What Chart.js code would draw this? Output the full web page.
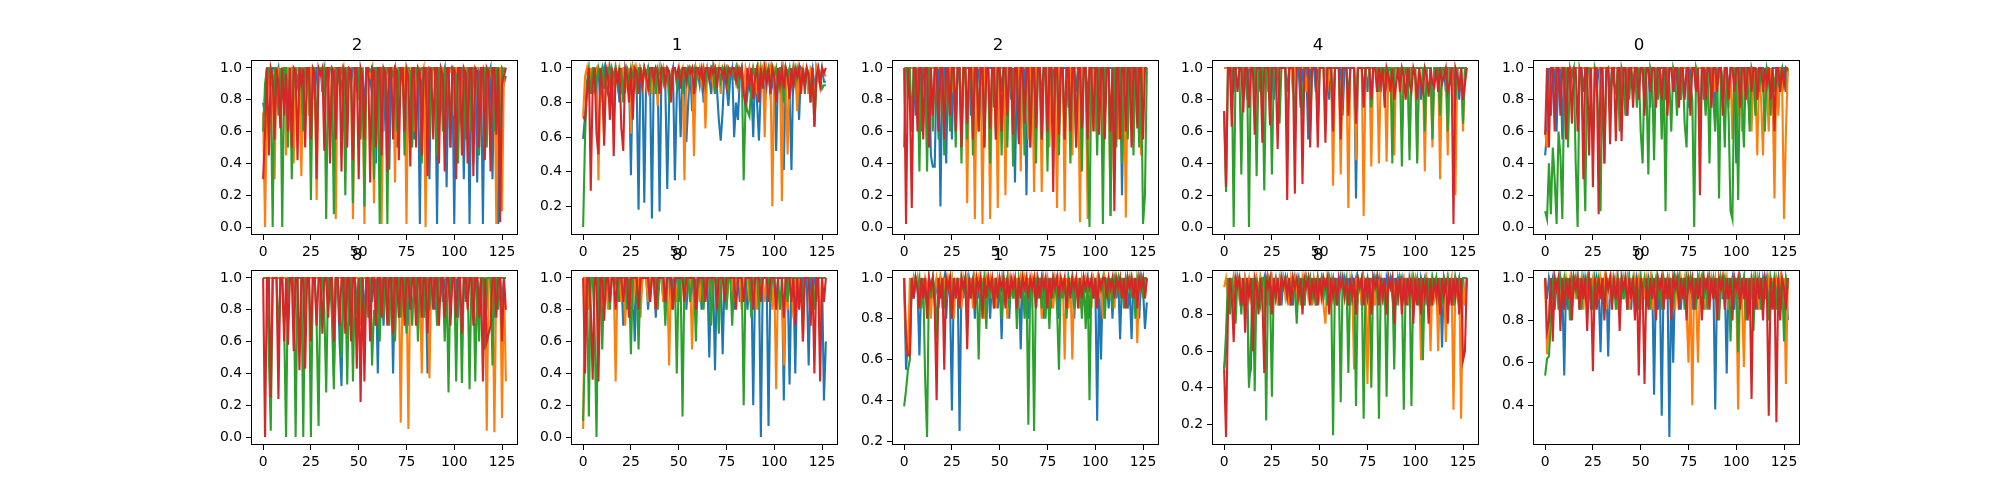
<!DOCTYPE html>
<html>
<head>
<meta charset="utf-8">
<script src="https://cdn.jsdelivr.net/npm/chart.js@4.4.1/dist/chart.umd.min.js"></script>
<style>
  html, body { margin: 0; padding: 0; background: #fff; }
  #fig { position: relative; width: 2000px; height: 500px; overflow: hidden; background: #fff; }
  #fig canvas { position: absolute; }
</style>
</head>
<body>
<div id="fig"></div>
<script>
// panel titles, row by row
const titles = ['2', '1', '2', '4', '0', '8', '8', '1', '8', '0'];
const xTicks = [0, 25, 50, 75, 100, 125];
const yTicks = [
  [0, .2, .4, .6, .8, 1], [.2, .4, .6, .8, 1], [0, .2, .4, .6, .8, 1], [0, .2, .4, .6, .8, 1], [0, .2, .4, .6, .8, 1],
  [0, .2, .4, .6, .8, 1], [0, .2, .4, .6, .8, 1], [.2, .4, .6, .8, 1], [.2, .4, .6, .8, 1], [.4, .6, .8, 1]
];
const steps = Array.from({ length: 128 }, (_, i) => i);

// ---- panel 0 ----
const p0Blue = [.78,.7,1,1,.9,1,1,.95,1,.85,1,1,1,.6,1,1,
  .9,1,1,1,.7,1,1,1,.95,1,1,.8,1,1,1,.85,
  1,1,.9,1,1,1,.75,1,1,1,.6,1,1,1,.9,1,
  1,.85,1,1,1,.7,1,1,.9,1,1,.4,1,1,1,.6,
  1,1,.36,1,1,1,.5,1,1,.9,1,.3,1,1,1,.55,
  1,1,.02,1,1,.9,1,.3,1,1,1,.02,1,1,.95,1,
  .25,1,1,1,.02,1,1,.9,1,.3,1,1,.02,1,1,1,
  .28,1,1,.02,1,1,.95,1,.3,1,1,.02,1,1,.9,.95];
const p0Orange = [.72,0,.8,1,1,.9,.3,1,1,.85,1,1,.45,1,1,1,
  .4,1,1,.95,.32,1,1,1,.7,1,1,1,.17,1,1,.9,
  1,1,.98,.5,1,1,.05,1,1,.95,1,.35,1,1,1,.05,
  1,1,.8,1,1,.02,1,1,.95,1,.15,1,1,1,.02,1,
  1,.9,1,1,1,.28,1,1,.98,1,1,.02,1,1,1,.6,
  1,1,1,.95,1,0,1,1,.9,1,1,.5,1,1,1,.8,
  1,1,.98,1,.7,1,1,1,.6,1,1,.95,1,1,.4,1,
  1,1,.98,1,.5,1,1,1,.9,1,.02,1,1,.1,1,1];
const p0Green = [.6,.9,1,1,.85,0,1,1,.7,1,0,1,1,.5,1,.3,
  1,1,.9,1,1,.6,1,1,1,.17,1,1,.5,1,1,.95,
  1,.05,1,1,1,.08,1,1,.9,1,1,.2,1,1,.95,.15,
  1,1,1,.55,1,.13,1,1,.98,1,.3,1,1,.02,1,1,
  1,.02,1,1,.95,1,.6,1,1,1,.45,1,1,.98,.5,1,
  1,.9,1,.4,1,1,1,.55,1,1,.98,.45,1,1,.6,1,
  1,1,.5,1,1,.95,.4,1,1,1,.55,1,1,.6,1,1,
  .98,.45,1,1,1,.5,1,1,.95,.6,1,1,.4,1,.98,1];
const p0Red = [.3,.6,1,.45,1,.95,.55,1,.9,.62,1,.7,.96,.6,1,.5,
  1,.98,.42,1,.9,1,.5,1,1,.55,1,.97,.3,1,.96,1,
  .48,1,1,.4,1,.98,.55,1,1,.35,1,.97,.5,1,.99,.42,
  1,1,.3,1,.95,.55,1,1,.28,1,.98,.5,1,1,.45,1,
  .97,.35,1,1,.55,1,.98,.42,1,1,.6,1,.95,.38,1,1,
  .5,1,.97,.45,1,1,.32,1,.99,.55,1,1,.4,1,.96,.35,
  1,1,.5,1,.98,.3,1,1,.45,1,.97,.4,1,1,.32,1,
  .98,.5,1,1,.42,1,.97,.35,1,1,.58,1,.03,.9,.95,1];

// ---- panel 1 ----
const p1Blue = [.59,.72,.9,.95,.85,1,.88,.92,1,.8,.95,1,.9,.85,1,.93,
  .9,1,.95,.8,1,.92,.88,1,.97,.38,1,.95,.9,.18,1,.97,
  .22,.98,1,.95,.13,1,.9,.97,.17,1,.96,.9,.3,.8,.95,1,
  .35,.85,1,.6,.95,.98,.57,.8,1,.75,.85,1,.97,.9,1,.8,
  .9,1,.95,.85,1,.92,.88,.7,.58,.75,1,.9,.78,.95,1,.6,
  .8,.7,.95,1,.9,.75,.85,.98,.9,.6,1,.8,.58,.9,1,.8,
  .95,1,.85,.9,.98,.52,1,.9,.95,.41,1,.98,.85,.41,1,.9,
  .95,.7,1,.98,.9,1,.85,.95,1,.85,1,.95,.9,1,.92,.92];
const p1Orange = [.72,.95,1,.9,1,.85,.98,1,.35,.9,1,.6,.95,1,.88,1,
  .7,1,.95,1,.85,1,1,.9,1,.62,1,.95,1,.88,1,.97,
  1,.9,1,.98,.85,1,1,.78,1,.95,1,.9,1,.98,.85,1,
  1,.92,1,.97,1,.35,1,.9,1,.98,.49,1,.95,1,.9,1,
  .65,1,.98,1,.9,1,.95,1,.85,1,.97,1,.92,1,1,.95,
  1,.9,1,.98,.85,1,.95,1,.9,1,.97,.85,1,.95,1,.6,
  1,.95,1,.2,1,.98,.9,1,.23,1,.95,.5,1,.9,1,.98,
  .75,1,.95,1,.9,1,.85,1,.98,.75,1,.95,.9,1,.97,.95];
const p1Green = [.08,.6,.92,1,.85,1,1,.9,1,.95,1,.88,1,1,.92,1,
  .95,1,.9,1,.98,.8,1,1,.92,1,.95,1,.85,1,1,.9,
  1,.95,1,.9,1,1,.85,1,.97,1,.92,1,1,.8,.95,1,
  1,.9,1,.98,.85,1,1,.92,1,.97,1,.9,1,1,.95,1,
  .9,1,1,.95,1,.85,1,1,.92,1,.97,1,.9,1,1,.95,
  1,.88,1,1,.35,.8,.75,.72,.9,1,.95,1,.88,1,.92,1,
  .97,1,.85,1,.95,1,.9,1,1,.8,1,.95,1,.88,1,.92,
  1,.95,.9,1,.85,1,.97,.8,1,.66,.9,1,.95,.88,.9,.9];
const p1Red = [.72,.7,.85,1,.29,.9,1,.62,.5,1,.9,.55,1,.95,.7,1,
  .49,1,.92,1,.65,.52,1,.95,.8,1,.7,1,.98,.85,1,.9,
  1,.95,.88,1,1,.92,1,.97,.85,1,1,.9,1,.98,.8,1,
  1,.95,1,.88,1,1,.92,1,.97,1,.85,1,1,.95,1,.9,
  1,1,.93,1,.97,1,.88,1,1,.95,1,.9,1,.97,1,1,
  .92,1,.95,1,.85,.8,1,.9,1,.82,.95,1,.8,1,.88,1,
  .9,1,.85,1,.95,.8,1,.9,1,.88,1,.95,.82,1,.9,1,
  .95,1,.85,1,.9,1,.95,.8,1,.66,.95,1,.9,1,.97,1];

// ---- panel 2 ----
const p2Blue = [1,1,1,1,1,1,.7,1,1,.6,1,1,.55,1,.45,.38,
  .38,1,1,.13,1,1,.4,1,1,.55,1,.7,1,1,.6,1,
  1,1,1,.7,1,1,.85,1,1,1,.8,1,1,1,1,.75,
  1,1,1,.85,1,1,1,1,.8,1,.28,1,1,1,1,1,
  .2,1,1,.85,1,1,1,1,.8,1,1,1,1,.65,1,1,
  1,.85,1,1,1,1,.75,1,1,1,.85,1,1,1,1,1,
  .8,1,1,1,1,1,.85,1,1,.7,1,1,1,1,.55,1,
  1,1,.2,1,1,1,.85,1,1,1,.8,1,1,1,1,1];
const p2Orange = [1,1,1,1,1,1,.85,1,1,1,1,1,1,.8,1,1,
  1,1,1,1,1,.6,1,1,1,.85,1,1,1,1,.7,1,
  1,.15,1,1,1,.05,1,1,1,.02,1,1,1,.05,1,1,
  1,.12,1,1,1,.2,1,1,1,.6,1,1,1,.35,1,1,
  1,.55,1,1,.22,1,1,1,.22,1,1,1,.5,1,1,1,
  .12,1,1,1,.1,1,1,1,.45,1,1,1,.03,1,1,1,
  .05,1,1,1,.6,1,1,1,.4,1,1,1,.07,1,1,1,
  .55,1,1,1,.06,1,1,1,.6,1,1,1,.45,1,1,1];
const p2Green = [.5,1,1,1,.6,1,.8,1,.35,1,1,1,.35,1,1,.6,
  1,1,.55,1,1,.45,1,1,.6,1,1,.5,1,1,.4,1,
  1,.55,1,1,.45,1,1,.6,1,1,.5,1,1,.4,1,1,
  .55,1,1,.45,1,1,.5,1,1,.38,1,1,.55,1,1,.45,
  1,1,.5,1,1,.4,1,1,.55,1,1,.35,1,1,.5,1,
  1,.45,1,1,.55,1,1,.4,1,1,.5,1,1,.35,1,1,
  .5,0,1,1,1,.45,1,1,.02,1,1,1,.07,1,1,.5,
  1,1,.4,1,1,.55,1,1,.45,1,1,.5,1,.02,.2,1];
const p2Red = [1,.02,1,.8,.12,1,1,.6,1,1,.55,1,1,.5,1,.7,
  1,1,.6,1,1,.55,1,1,.7,1,1,.6,1,1,.5,1,
  1,.65,1,1,.55,1,1,.6,1,1,.5,1,1,.62,1,1,
  .55,1,1,.6,1,1,.7,1,1,.58,1,1,.52,1,1,.65,
  1,1,.5,1,1,.62,1,1,.55,1,1,.6,1,1,.22,1,
  1,.58,1,1,.55,1,1,.6,1,1,.5,1,1,.62,1,1,
  .55,1,1,.6,1,1,.58,1,1,.55,1,1,.6,1,.1,1,
  1,.55,1,1,.6,1,1,.5,1,1,.62,1,1,.55,1,1];

// ---- panel 3 ----
const p3Blue = [1,1,1,1,1,.85,1,1,1,1,1,1,.8,1,1,1,
  1,1,1,.85,1,1,1,1,1,1,.8,1,1,1,1,1,
  1,.85,1,1,1,1,1,1,.75,1,1,1,.55,1,1,1,
  .85,1,1,1,1,1,1,.8,1,1,1,1,1,1,.7,1,
  1,1,1,1,1,.18,1,1,1,1,1,.85,1,1,1,1,
  1,1,.85,1,1,1,1,1,1,.8,1,1,1,1,1,1,
  .85,1,1,1,1,1,1,.8,1,1,1,1,1,.7,1,1,
  1,1,1,1,.85,1,1,1,1,1,1,.8,1,1,1,1];
const p3Orange = [1,1,1,1,1,1,1,1,1,1,1,1,1,1,1,1,
  1,1,1,1,1,1,1,.85,1,1,1,1,1,1,1,1,
  1,1,1,1,.85,1,1,1,1,1,1,.85,1,1,1,1,
  1,1,1,1,1,1,.85,1,1,.26,1,1,1,.33,1,1,
  1,.12,1,1,1,.42,1,1,1,.07,1,1,1,.38,1,1,
  1,.4,1,1,1,.41,1,1,1,.45,1,1,1,.6,1,1,
  1,.5,1,1,1,.42,1,1,1,.35,1,1,1,.5,1,1,
  1,.3,1,1,1,.45,1,1,1,.2,1,1,1,.6,1,1];
const p3Green = [.72,.22,1,1,1,0,1,1,1,.33,1,1,1,0,1,1,
  1,.32,1,1,1,.23,1,1,1,.33,1,1,1,.65,1,1,
  1,.55,1,1,1,.6,1,1,1,.7,1,1,1,.6,1,1,
  1,.65,1,1,1,.7,1,1,1,.75,1,1,1,.7,1,1,
  1,.8,1,1,1,.7,1,1,1,.85,1,1,1,.75,1,1,
  1,.85,1,1,1,.9,1,1,.4,1,1,1,1,.38,1,1,
  1,.42,1,1,1,.4,1,1,1,.6,1,1,1,.55,1,1,
  1,.7,1,1,1,.6,1,1,1,.8,1,1,1,.65,1,1];
const p3Red = [.73,.25,1,1,.63,1,1,.85,1,1,.72,1,1,.75,1,1,
  .58,1,1,1,.53,1,1,1,.64,1,1,1,.49,1,1,1,
  1,.17,1,1,1,.21,1,1,1,.27,1,1,1,.5,1,1,
  1,.5,1,1,1,.53,1,1,1,.6,1,1,1,.55,1,1,
  1,.7,1,1,1,.65,1,1,1,.75,1,1,1,.8,1,1,
  .85,1,.9,1,.75,1,.95,.85,1,.8,.9,1,.85,1,.95,.8,
  1,.9,.85,1,.95,.8,1,.9,.85,1,.95,.82,1,.9,.88,1,
  .85,1,.9,.95,1,.85,.9,1,.02,1,.95,.85,1,.8,.9,1];

// ---- panel 4 ----
const p4Blue = [.45,.6,1,.7,1,1,.6,1,1,.55,1,1,1,.85,1,1,
  1,1,1,1,.85,1,1,1,1,1,1,.85,1,1,1,1,
  1,1,.8,1,1,1,1,.75,1,1,1,.7,1,1,1,1,
  .85,1,1,1,.8,1,1,.75,1,1,1,.85,1,1,1,.8,
  1,1,1,1,.85,1,1,.8,1,1,1,.75,1,1,1,.85,
  1,1,1,.8,1,1,1,.85,1,.7,1,1,1,.75,1,1,
  .85,1,1,1,.4,1,1,.8,1,1,1,.85,1,1,1,.8,
  1,1,1,.85,1,1,.8,1,1,1,.75,1,1,1,.85,1];
const p4Orange = [.6,.5,.8,1,1,1,1,1,1,1,1,1,1,1,1,1,
  1,1,1,1,1,1,1,1,1,1,1,1,1,1,1,1,
  1,1,1,1,1,1,1,1,1,1,1,1,1,1,1,1,
  1,1,1,1,1,1,1,1,1,1,1,1,1,.9,1,1,
  1,1,1,1,1,1,1,1,1,1,1,1,1,1,1,1,
  1,1,1,1,1,1,1,1,1,.85,1,1,.9,.8,1,1,
  .75,1,.55,1,1,.7,1,.6,1,.85,.8,1,.6,1,.9,.45,
  1,.8,.45,1,.9,.6,1,.85,.18,1,.7,1,.9,.05,.6,1];
const p4Green = [.1,.05,.4,.08,.5,.3,.02,.6,.45,.05,.9,1,.5,1,.95,1,
  .4,0,1,.95,.6,.1,1,1,.8,.5,1,.95,.6,.1,1,.4,
  .98,1,.7,1,.9,.85,1,.6,1,.95,.7,1,.8,1,.9,1,
  .75,1,.6,.4,1,.9,.33,1,.95,.42,1,.8,1,.55,1,.1,
  1,.9,.6,1,.95,.7,1,.8,1,.65,.5,1,.9,.8,0,1,
  .95,.6,1,.9,.7,1,.4,1,.8,.6,1,.18,1,.9,.5,1,
  .7,.1,.05,1,.9,.17,1,.8,.5,1,.9,.6,1,.95,.7,1,
  .85,1,.9,.6,1,.95,.7,1,.85,1,.9,.95,1,.9,1,.98];
const p4Red = [.58,1,.5,1,1,.6,1,1,.7,1,1,.55,1,1,.65,1,
  1,.6,1,1,.3,1,1,.45,1,.25,1,1,.08,1,1,.4,
  1,1,.52,1,1,.54,1,1,.54,1,1,.7,1,1,.75,1,
  1,.8,1,1,.7,1,1,.85,1,1,.75,1,1,.8,1,1,
  .7,1,1,.85,1,1,.75,1,1,.8,1,1,.7,1,1,.85,
  1,.2,1,1,.8,1,1,.75,1,1,.85,1,1,.7,1,1,
  .8,1,1,.85,1,1,.75,1,1,.8,1,1,.85,1,1,.8,
  1,1,.85,1,.9,1,.8,1,.6,1,1,.85,1,.9,1,1];

// ---- panel 5 ----
const p5Blue = [1,1,1,1,1,1,1,1,1,1,1,1,1,1,1,1,
  1,1,1,1,1,1,1,1,1,1,1,1,1,1,1,1,
  1,1,1,1,1,.38,1,1,.6,.32,1,1,1,.7,1,1,
  1,.8,1,1,1,.75,1,1,1,.85,1,1,.4,1,1,.7,
  1,.85,1,1,.4,1,1,1,.8,1,1,1,.7,1,1,1,
  .85,1,1,1,.75,1,.4,1,1,1,.8,1,1,1,.85,1,
  1,1,.8,1,1,1,.75,1,1,1,.85,1,1,1,.8,1,
  1,.85,1,1,1,.8,1,1,1,.75,1,1,1,.85,1,1];
const p5Orange = [1,1,1,1,1,1,1,1,1,1,1,1,1,1,1,1,
  1,1,1,1,1,1,1,1,1,1,1,1,1,1,1,1,
  1,1,1,1,1,.6,1,1,1,1,1,1,1,1,1,1,
  1,1,1,.7,1,1,1,1,1,1,1,1,1,1,1,1,
  1,1,1,1,1,1,1,1,.09,1,1,1,.05,1,1,1,
  1,1,1,.4,1,1,1,.37,1,1,1,1,1,1,1,1,
  1,1,1,1,1,1,1,1,1,1,1,1,1,1,1,1,
  1,1,1,1,1,.04,1,1,1,.03,1,1,1,.12,1,.35];
const p5Green = [1,1,1,.5,.04,1,1,1,.6,1,1,.7,0,1,1,1,
  1,0,1,1,1,0,1,1,1,0,1,1,.7,.07,1,1,
  .8,.28,1,1,.75,.3,1,1,.8,.5,1,1,.33,1,1,.35,
  1,.8,.7,1,1,.6,1,.75,1,.45,.8,.7,1,.6,1,.75,
  1,1,.7,1,1,.6,1,1,.75,1,1,.65,1,1,.7,1,
  1,.6,1,1,.75,1,1,.8,1,1,1,.7,1,1,1,.6,
  1,.28,1,1,1,.35,1,1,.34,1,1,1,.3,1,1,.35,
  1,.6,1,1,.55,1,1,1,.45,1,1,.8,1,1,1,1];
const p5Red = [1,0,1,1,.25,1,1,1,.24,1,1,.6,1,.58,1,1,
  .54,1,1,.42,1,1,.43,1,1,.6,1,1,.7,1,1,.65,
  1,1,.75,1,1,.6,1,1,.7,1,1,.65,1,1,.6,1,
  1,.43,1,.22,1,.35,1,1,.6,1,1,.7,1,1,.75,1,
  1,.7,1,1,.65,1,1,.75,1,1,.7,1,1,.8,1,1,
  .7,1,1,.75,1,1,.65,1,1,.8,1,1,.7,1,1,.75,
  1,1,.7,1,1,.75,1,1,.65,1,1,.8,1,1,.7,1,
  1,.75,1,.35,1,.6,.65,.7,1,1,.75,1,1,.6,1,.8];

// ---- panel 6 ----
const p6Blue = [1,1,1,.85,1,1,1,1,1,.8,1,1,1,.85,1,1,
  1,1,1,.85,1,.7,1,1,1,.8,1,.6,1,1,.85,1,
  1,1,.8,1,1,1,.75,1,1,1,.85,1,1,1,.8,1,
  1,1,.85,1,1,1,.8,1,1,1,.85,1,1,1,.8,1,
  1,1,.5,1,1,.42,1,1,1,.52,1,.85,1,1,1,.8,
  1,1,.85,1,1,1,.8,1,1,.2,1,1,1,0,1,1,
  1,.07,1,1,1,.85,1,1,1,.23,1,1,.33,1,1,.4,
  1,1,.85,1,1,1,.45,1,1,1,.85,1,1,1,.23,.6];
const p6Orange = [.05,1,1,.8,1,1,1,1,1,.85,1,1,1,.8,1,1,
  1,.35,1,1,.85,1,.7,1,1,1,.8,1,1,1,.75,1,
  1,1,.85,1,1,1,.8,1,1,1,.85,1,1,.45,1,1,
  1,.85,1,1,1,.8,1,1,1,.55,1,1,1,.85,1,1,
  1,1,1,.8,1,1,1,.85,1,1,1,.8,1,1,1,.85,
  1,1,1,.8,1,1,1,.85,1,1,1,.8,1,1,1,.85,
  1,1,1,.8,1,.3,1,1,1,.45,1,.8,1,1,.75,1,
  .85,1,1,.6,1,1,1,.7,1,.85,1,1,.65,1,1,1];
const p6Green = [.1,.6,1,.13,1,1,.7,0,1,1,.55,1,1,1,.8,1,
  1,1,.85,1,1,1,1,.8,1,.52,1,1,1,.55,1,1,
  1,1,1,.85,1,1,1,.8,1,1,1,.7,1,1,1,.85,
  1,.4,1,1,.13,1,1,1,.85,1,1,.6,1,1,1,.8,
  1,1,1,.7,1,1,1,.65,1,1,1,.8,1,1,.7,1,
  1,1,1,1,.2,1,1,1,.75,1,1,1,.8,1,1,1,
  1,1,.85,1,1,1,1,.8,1,1,1,.85,1,1,1,1,
  1,1,1,.85,1,1,1,1,1,.8,1,1,1,1,1,1];
const p6Red = [1,.4,1,1,.8,.36,1,1,.35,1,1,.73,1,1,.85,1,
  1,.8,1,1,1,.85,1,1,.75,1,1,1,1,.8,1,1,
  1,1,1,.85,1,1,.8,1,1,1,1,.85,1,1,1,.8,
  1,1,1,1,1,.85,1,1,1,1,1,.8,1,1,1,1,
  .85,1,1,1,1,1,.8,1,1,1,.85,1,1,1,1,1,
  .8,1,1,1,.85,1,1,1,1,.8,1,1,1,.85,1,1,
  1,.85,1,1,1,.8,1,1,1,.75,1,1,1,.85,1,.7,
  1,.8,1,.6,1,1,1,.7,1,.4,1,1,.35,1,.85,1];

// ---- panel 7 ----
const p7Blue = [1,.55,.7,.8,1,.9,1,.95,.62,1,.9,1,.85,1,.95,1,
  .9,1,.85,1,.95,1,.8,1,.9,.35,1,.95,1,.25,1,.9,
  1,.85,1,.95,1,.8,1,.9,1,.85,1,.95,1,.8,1,.9,
  1,.85,1,.7,1,.95,1,.8,1,.9,1,.85,1,.65,1,.95,
  1,.8,1,.9,1,.85,1,.95,1,.8,1,.9,1,.85,1,.95,
  1,.8,1,.9,1,.85,1,.95,1,.8,1,.9,1,.85,1,.95,
  1,.8,1,.9,1,.3,1,.6,1,.9,1,.85,1,.8,1,.9,
  1,.7,1,.9,1,.85,.95,.7,1,.9,1,.8,1,.95,.75,.88];
const p7Orange = [1,.7,.62,1,.9,1,.95,1,.85,1,.9,1,.95,1,.8,1,
  .9,1,.95,1,.85,1,.9,1,.95,1,.8,1,.9,1,.85,1,
  .95,1,.9,1,.85,1,.95,1,.9,1,.8,1,.95,1,.9,1,
  .85,1,.95,1,.9,1,.8,1,.95,1,.9,1,.85,1,.95,1,
  .9,1,.85,1,.95,1,.9,1,.8,1,.95,1,.9,1,.85,1,
  .95,1,.9,1,.6,1,.85,1,.6,1,.9,1,.85,1,.95,1,
  .9,1,.85,1,.95,1,.9,1,.8,1,.95,1,.9,1,.85,1,
  .95,1,.9,1,.85,1,.95,1,.9,1,.68,1,.95,1,.9,1];
const p7Green = [.37,.45,.55,.6,1,.9,1,.95,1,.85,1,.5,.22,1,.9,1,
  .95,.7,1,.9,1,.85,1,.95,1,.8,1,.9,1,.85,1,.95,
  1,.8,1,.9,1,.85,1,.6,1,.95,1,.75,1,.9,1,.85,
  1,.9,1,.8,1,.95,1,.85,1,.9,1,.75,1,.95,1,.8,
  1,.28,1,.95,.25,1,.9,1,.85,1,.8,1,.75,1,.9,1,
  .85,.55,1,.9,1,.8,1,.95,1,.85,1,.9,1,.8,1,.75,
  1,.4,1,.9,1,.85,1,.95,1,.8,1,.9,1,.85,1,.95,
  1,.9,1,.85,1,.95,1,.9,1,.8,1,.95,1,.9,1,1];
const p7Red = [1,.7,.62,.62,1,.9,1,.95,.85,1,.9,1,.8,1,.95,1,
  .85,.4,1,.9,1,.55,1,.95,1,.8,1,.9,1,.85,1,.95,
  1,.65,1,.9,1,.85,1,.95,1,.8,1,.9,1,.95,1,.85,
  1,.9,1,.95,1,.85,1,.9,1,.95,1,.85,1,.9,1,.95,
  1,.9,1,.95,1,.85,1,.9,1,.95,1,.85,1,.9,1,.95,
  1,.9,1,.95,1,.85,1,.9,1,.95,1,.85,1,.9,1,.95,
  1,.95,1,.9,1,.85,1,.95,1,1,.9,1,.95,1,.9,1,
  .95,1,.9,1,.85,1,.95,1,.9,1,.85,1,.95,1,.9,1];

// ---- panel 8 ----
const p8Blue = [.5,.6,.9,1,.85,1,.95,1,.9,1,.85,1,.95,.45,.5,1,
  .9,1,.85,1,.95,1,.9,1,.85,1,.95,1,.9,1,.85,1,
  .95,1,.9,1,.85,1,.95,1,.9,1,.85,1,.95,1,.9,1,
  .85,1,.95,1,.9,1,.85,1,.95,1,.9,1,.85,1,.95,1,
  .9,1,.85,1,.95,1,.9,1,.85,1,.95,1,.9,1,.85,1,
  .95,1,.9,1,.85,1,.95,1,.9,1,.85,1,.95,1,.9,1,
  .85,1,.95,1,.9,1,.85,1,.95,1,.9,1,.85,1,.95,1,
  .9,1,.62,1,.95,1,.9,1,.85,1,.95,1,.9,1,.85,1];
const p8Orange = [.95,1,.9,1,.85,1,.95,1,.9,1,.85,1,.95,1,.9,1,
  .85,1,.95,1,.9,1,.85,1,.95,1,.9,1,.85,1,.95,1,
  .9,1,.85,1,.95,1,.9,1,.85,1,.95,1,.9,1,.85,1,
  .95,1,.9,1,.85,.75,1,.95,1,.9,1,.85,1,.95,1,.9,
  1,.85,1,.95,.5,1,.9,1,.85,1,.95,.42,1,.9,1,.85,
  1,.95,1,.9,1,.85,1,.95,1,.9,1,.85,1,.95,1,.9,
  1,.85,1,.95,1,.9,1,.55,1,.85,1,.95,.6,1,.9,1,
  .6,1,.85,1,.65,1,.95,1,.28,1,.9,1,.23,1,.85,1];
const p8Green = [.5,.7,1,.8,1,.9,.75,1,.95,.8,1,.9,1,.4,.6,1,
  .38,1,.9,.85,1,1,.22,1,.95,.35,1,.9,1,.85,1,.95,
  1,.9,1,.85,1,.95,.75,1,.9,1,.85,1,.95,1,.9,1,
  .85,1,.95,1,.9,1,.85,1,.95,.14,1,.9,1,.32,1,.95,
  1,.48,1,.9,1,.3,1,.95,1,.23,1,.9,1,.4,1,.95,
  1,.23,1,.9,1,.35,1,.95,1,.5,1,.9,1,.95,.28,1,
  .9,1,.3,1,.95,1,.85,1,.55,1,.9,1,.85,1,.95,1,
  .9,1,.85,1,.95,1,.9,1,.85,1,.95,1,.9,1,1,1];
const p8Red = [.5,.13,.8,1,.9,.65,1,.95,1,.85,1,.7,1,.9,1,.6,
  1,.95,.8,1,.9,.48,1,.95,1,.8,1,.9,1,.85,1,.95,
  1,.9,1,.85,1,.95,1,.9,1,.8,1,.95,1,.85,1,.9,
  1,.85,1,.9,1,.95,1,.8,1,.9,1,.85,1,.95,1,.9,
  1,.85,1,.9,1,.8,1,.95,1,.85,1,.9,1,.8,1,.95,
  1,.85,1,.9,1,.8,1,.95,1,.75,1,.9,1,.8,1,.85,
  1,.9,1,.75,1,.85,1,.8,1,.9,1,.75,1,.85,1,.9,
  1,.8,1,.9,1,.75,1,.85,1,.9,1,.8,1,.55,.6,1];

// ---- panel 9 ----
const p9Blue = [1,.9,1,.95,1,.85,1,.9,1,.95,.54,1,.85,1,.9,1,
  .95,1,.85,1,.9,1,.95,1,.85,1,.9,1,.95,.65,1,.85,
  1,.63,1,.9,1,.95,1,.85,1,.9,1,.95,1,.85,1,.9,
  1,.95,1,.85,1,.9,1,.95,1,.45,1,.85,1,.35,1,.9,
  1,.25,1,.6,1,.95,1,.85,1,.9,1,.95,1,.85,1,.9,
  1,.95,1,.85,1,.9,1,.95,1,.38,1,.85,1,.9,1,.55,
  1,.95,1,.85,1,.9,1,.95,1,.85,1,.9,1,.95,1,.85,
  1,.9,1,.95,1,.85,1,.9,1,.95,1,.85,1,.9,1,.8];
const p9Orange = [1,.64,.8,1,.9,1,.95,1,.85,1,.9,1,.95,1,.85,1,
  .9,1,.95,1,.85,1,.9,1,.95,1,.85,1,.9,1,.95,1,
  .85,1,.9,1,.95,1,.85,1,.9,1,.95,1,.85,1,.9,1,
  .95,1,.85,1,.9,1,.95,1,.85,1,.9,1,.95,1,.85,1,
  .9,1,.95,1,.85,1,.9,1,.95,1,.85,.6,1,.4,1,.9,
  .6,1,.95,1,.85,1,.9,1,.95,1,.85,1,.9,1,.95,1,
  .85,1,.9,1,.95,.38,1,.9,.58,1,.85,1,.9,1,.95,1,
  .85,1,.9,1,.95,1,.85,1,.9,1,.95,1,.85,1,.5,1];
const p9Green = [.54,.62,.63,.8,1,.9,1,.85,1,.95,1,.9,1,.8,1,.95,
  1,.9,1,.85,1,.95,1,.9,1,.85,1,.95,1,.9,1,.85,
  1,.95,1,.9,1,.85,1,.95,1,.9,1,.85,1,.95,1,.9,
  1,.85,1,.95,1,.9,1,.85,1,.95,1,.9,1,.85,1,.95,
  1,.9,1,.85,1,.95,1,.9,1,.85,1,.95,1,.9,1,.85,
  1,.95,1,.9,1,.85,1,.95,1,.9,1,.8,1,.95,1,.9,
  1,.7,1,.9,1,.65,1,.95,1,.8,1,.9,1,.75,1,.95,
  1,.85,1,.9,1,.8,1,.95,1,.85,1,.9,1,.7,1,.95];
const p9Red = [1,.75,.8,1,.7,1,.95,1,.75,1,.85,1,.9,1,.8,1,
  .95,1,.85,1,.9,1,.75,1,.95,.56,1,.85,1,.9,1,.8,
  1,.95,1,.85,1,.9,1,.75,1,.95,1,.85,1,.9,1,.8,
  1,.54,1,.95,.5,1,.85,1,.9,1,.8,1,.95,1,.85,1,
  .9,1,.8,1,.95,1,.85,1,.9,1,.8,1,.95,1,.85,1,
  .9,1,.8,1,.95,1,.85,1,.9,1,.8,1,.95,1,.85,1,
  .9,1,.8,1,.95,1,.85,1,.9,1,.8,1,.43,1,.85,1,
  .9,1,.8,1,.95,.35,1,.85,1,.32,1,.8,1,.95,.85,1];

const panels = [
  [p0Blue, p0Orange, p0Green, p0Red], [p1Blue, p1Orange, p1Green, p1Red],
  [p2Blue, p2Orange, p2Green, p2Red], [p3Blue, p3Orange, p3Green, p3Red],
  [p4Blue, p4Orange, p4Green, p4Red], [p5Blue, p5Orange, p5Green, p5Red],
  [p6Blue, p6Orange, p6Green, p6Red], [p7Blue, p7Orange, p7Green, p7Red],
  [p8Blue, p8Orange, p8Green, p8Red], [p9Blue, p9Orange, p9Green, p9Red]
];
const colors = ['#1f77b4', '#ff7f0e', '#2ca02c', '#d62728'];

// figure geometry (matplotlib 2x5 grid in a 2000x500 figure)
const AX_W = 267, AX_H = 175;
const Y_AXIS_W = 55, X_AXIS_H = 30, TITLE_H = 23, PAD_R = 20;
const axLefts = [251, 571, 892, 1212, 1533];
const axTops = [60, 270];

Chart.defaults.font.family = 'DejaVu Sans';
Chart.defaults.font.size = 13.9;
Chart.defaults.color = '#000';

const frame = {
  id: 'frame',
  afterDatasetsDraw(chart) {
    const { ctx, chartArea: a } = chart;
    ctx.save();
    ctx.strokeStyle = '#000';
    ctx.lineWidth = 1;
    ctx.strokeRect(a.left + .5, a.top + .5, a.right - a.left - 1, a.bottom - a.top - 1);
    ctx.restore();
  }
};

const fig = document.getElementById('fig');

panels.forEach((series, idx) => {
  const row = Math.floor(idx / 5), col = idx % 5;
  const canvas = document.createElement('canvas');
  canvas.width = Y_AXIS_W + AX_W + PAD_R;
  canvas.height = TITLE_H + AX_H + X_AXIS_H;
  canvas.style.left = (axLefts[col] - Y_AXIS_W) + 'px';
  canvas.style.top = (axTops[row] - TITLE_H) + 'px';
  canvas.style.width = canvas.width + 'px';
  canvas.style.height = canvas.height + 'px';
  fig.appendChild(canvas);

  const all = series.flat();
  const lo = Math.min(...all), hi = Math.max(...all);
  const pad = (hi - lo) * 0.05;

  new Chart(canvas, {
    type: 'line',
    data: {
      labels: steps,
      datasets: series.map((d, k) => ({
        data: d, borderColor: colors[k], backgroundColor: colors[k],
        borderWidth: 2.1, pointRadius: 0, tension: 0, fill: false,
        order: 3 - k, clip: 0
      }))
    },
    options: {
      responsive: false, animation: false, events: [],
      layout: { padding: { left: 0, top: 0, bottom: 0, right: PAD_R } },
      plugins: {
        legend: { display: false }, tooltip: { enabled: false },
        title: {
          display: true, text: titles[idx], color: '#000',
          font: { family: 'DejaVu Sans', size: 16.7, weight: 'normal', lineHeight: 1 },
          padding: { top: 0, bottom: 6.3 }
        }
      },
      scales: {
        x: {
          type: 'linear', min: -6.35, max: 133.35,
          afterBuildTicks: s => { s.ticks = xTicks.map(v => ({ value: v })); },
          afterFit: s => { s.height = X_AXIS_H; },
          ticks: { autoSkip: false, maxRotation: 0, padding: 4, color: '#000', callback: v => String(v) },
          grid: { display: true, drawOnChartArea: false, drawTicks: true, tickLength: 5, color: '#000', lineWidth: 1 },
          border: { display: false }
        },
        y: {
          type: 'linear', min: lo - pad, max: hi + pad,
          afterBuildTicks: s => { s.ticks = yTicks[idx].filter(v => v >= s.min && v <= s.max).map(v => ({ value: v })); },
          afterFit: s => { s.width = Y_AXIS_W; },
          ticks: { autoSkip: false, padding: 4, color: '#000', callback: v => v.toFixed(1) },
          grid: { display: true, drawOnChartArea: false, drawTicks: true, tickLength: 5, color: '#000', lineWidth: 1 },
          border: { display: false }
        }
      }
    },
    plugins: [frame]
  });
});
</script>
</body>
</html>
